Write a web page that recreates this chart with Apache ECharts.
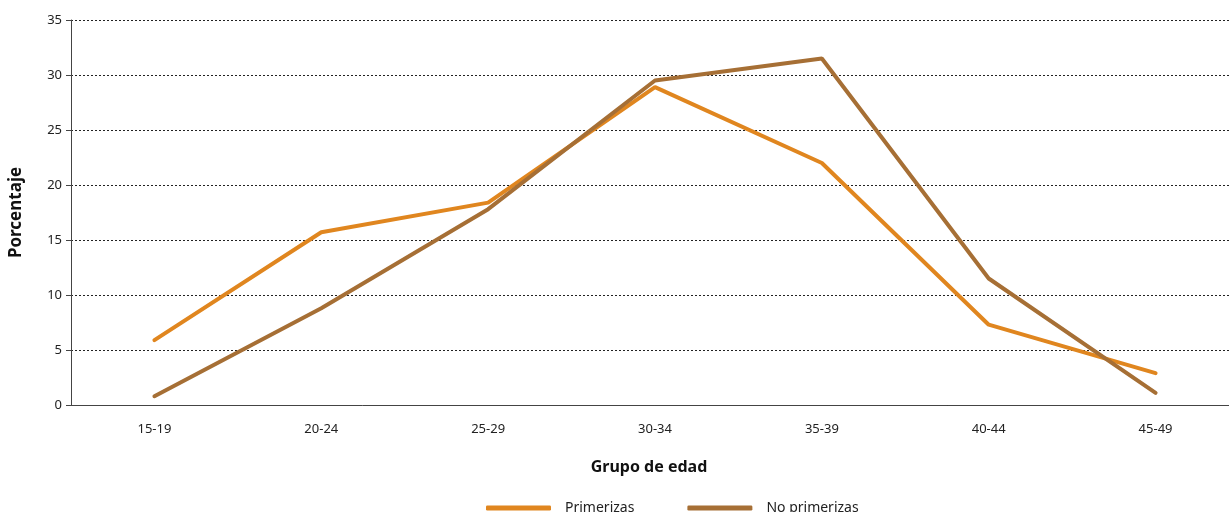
<!DOCTYPE html>
<html>
<head>
<meta charset="utf-8">
<script src="https://cdn.jsdelivr.net/npm/echarts@6/dist/echarts.min.js"></script>
<style>
  html, body { margin: 0; padding: 0; background: #fff; overflow: hidden; }
  /* el área de trazado se sale un poco por la derecha, como en el original */
  #main { width: 1239px; height: 512px; }
</style>
</head>
<body>
<div id="main"></div>
<script>
// grupos de edad
const categories = ['15-19', '20-24', '25-29', '30-34', '35-39', '40-44', '45-49'];
const primerizas = [5.9, 15.7, 18.4, 28.9, 22.0, 7.3, 2.9];
const noPrimerizas = [0.8, 8.8, 17.8, 29.5, 31.5, 11.5, 1.1];
const yTicks = [0, 5, 10, 15, 20, 25, 30, 35];

const font = 'Noto Sans';
var myChart = echarts.init(document.getElementById('main'));

var option = {
  animation: false,
  textStyle: { fontFamily: font },
  grid: { left: 70, right: 0, top: 20, bottom: 107 },
  legend: {
    left: 481,
    top: 496,
    icon: 'roundRect',
    itemWidth: 65,
    itemHeight: 5,
    itemGap: 53,
    textStyle: { fontSize: 14, color: '#222', fontFamily: font, padding: [0, 0, 0, 9] },
    data: ['Primerizas', 'No primerizas']
  },
  xAxis: {
    type: 'category',
    data: categories,
    boundaryGap: true,
    name: 'Grupo de edad',
    nameLocation: 'middle',
    nameGap: 54,
    nameTextStyle: { fontSize: 16, fontWeight: 'bold', color: '#111', fontFamily: font, padding: [0, 12, 0, 0] },
    axisLine: { lineStyle: { color: '#444', width: 1 } },
    axisTick: { length: 5, lineStyle: { color: '#444' } },
    axisLabel: { fontSize: 13, color: '#222', margin: 18 }
  },
  yAxis: {
    type: 'value',
    min: yTicks[0],
    max: yTicks[yTicks.length - 1],
    interval: 5,
    name: 'Porcentaje',
    nameLocation: 'middle',
    nameGap: 46,
    nameTextStyle: { fontSize: 17, fontWeight: 'bold', color: '#111', fontFamily: font },
    axisLine: { show: true, lineStyle: { color: '#444', width: 1 } },
    axisTick: { show: true, length: 5, lineStyle: { color: '#444' } },
    axisLabel: { fontSize: 13, color: '#222', margin: 9 },
    splitLine: { lineStyle: { color: '#222', type: [2, 2], width: 1 } }
  },
  series: [
    {
      name: 'Primerizas',
      type: 'line',
      data: primerizas,
      symbol: 'none',
      lineStyle: { color: '#E0861F', width: 4, cap: 'round' },
      itemStyle: { color: '#E0861F' }
    },
    {
      name: 'No primerizas',
      type: 'line',
      data: noPrimerizas,
      symbol: 'none',
      lineStyle: { color: '#A66F35', width: 4, cap: 'round' },
      itemStyle: { color: '#A66F35' }
    }
  ]
};

myChart.setOption(option);
</script>
</body>
</html>
